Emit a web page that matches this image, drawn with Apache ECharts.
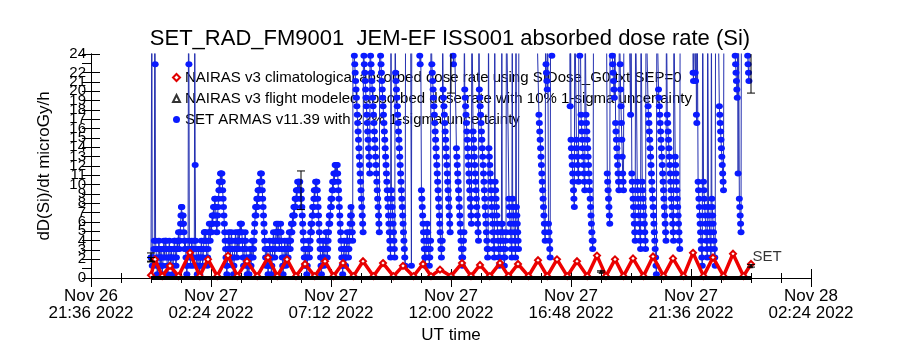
<!DOCTYPE html>
<html><head><meta charset="utf-8">
<script src="https://cdn.jsdelivr.net/npm/echarts@6/dist/echarts.min.js"></script>
<style>html,body{margin:0;padding:0;background:#fff}#c{width:900px;height:350px}</style>
</head><body><div id="c"></div>
<script>
// x axis: hours since Nov 26 21:36 UT
const xTickLabels = ["Nov 26\n21:36 2022","Nov 27\n02:24 2022","Nov 27\n07:12 2022","Nov 27\n12:00 2022","Nov 27\n16:48 2022","Nov 27\n21:36 2022","Nov 28\n02:24 2022"];
const dataStartHour = 2.4;        // Nov 27 00:00 UT
const blueStepHour = 1/60;        // 1-minute samples

const seriesNames = [
  "NAIRAS v3 climatological absorbed dose rate using SIDose_G0.txt SEP=0",
  "NAIRAS v3 flight modeled absorbed dose rate with 10% 1-sigma uncertainty",
  "SET ARMAS v11.39 with 22% 1-sigma uncertainty"
];

// SET ARMAS dose rate (microGy/h), 1-min samples from Nov 27 00:00 (values >24 are off the chart)
const blueValues = [
2.2,2.2,30,1.3,2.2,1.3,2.2,3.1,4.0,30,22.9,4.0,3.1,2.2,
1.3,0.4,1.3,2.2,3.1,4.0,3.1,2.2,1.3,2.2,3.1,2.2,1.3,0.4,1.3,2.2,3.1,4.0,3.1,2.2,
3.1,4.0,4.0,3.1,2.2,1.3,0.4,1.3,2.2,3.1,4.0,3.1,
2.2,1.3,2.2,3.1,2.2,1.3,0.4,1.3,2.2,3.1,4.0,4.0,
3.1,2.2,1.3,2.2,3.1,4.0,3.1,4.0,4.9,4.0,3.1,4.0,4.9,5.8,6.7,7.6,
7.6,6.7,5.8,6.7,5.8,4.9,4.0,3.1,4.0,3.1,2.2,1.3,0.4,1.3,2.2,
3.1,30,22.9,4.0,3.1,2.2,1.3,2.2,3.1,4.0,3.1,2.2,1.3,2.2,3.1,4.0,30,12.1,4.0,3.1,2.2,1.3,
0.4,1.3,2.2,3.1,2.2,1.3,0.4,1.3,2.2,3.1,4.0,3.1,2.2,1.3,2.2,3.1,4.0,4.9,
4.9,4.0,4.9,4.0,3.1,2.2,1.3,2.2,3.1,4.0,4.9,5.8,
4.9,4.0,4.9,5.8,4.9,5.8,6.7,5.8,6.7,7.6,6.7,7.6,8.5,8.5,7.6,6.7,5.8,4.9,5.8,6.7,
7.6,8.5,9.4,10.3,9.4,10.3,11.2,11.2,10.3,11.2,10.3,9.4,8.5,7.6,6.7,5.8,4.9,4.0,3.1,2.2,1.3,0.4,1.3,2.2,3.1,
4.0,4.9,4.0,3.1,2.2,3.1,4.0,4.9,4.0,3.1,2.2,1.3,0.4,1.3,2.2,3.1,4.0,4.9,4.0,3.1,
2.2,3.1,4.0,4.9,4.0,3.1,4.0,4.9,5.8,4.9,5.8,5.8,4.9,4.0,3.1,2.2,1.3,2.2,3.1,4.0,4.9,4.0,3.1,2.2,1.3,
0.4,1.3,2.2,1.3,0.4,1.3,2.2,3.1,2.2,1.3,2.2,3.1,4.0,3.1,2.2,3.1,4.0,4.9,5.8,6.7,
7.6,6.7,7.6,8.5,7.6,8.5,9.4,8.5,9.4,10.3,9.4,10.3,11.2,10.3,11.2,10.3,9.4,8.5,7.6,6.7,5.8,4.9,4.0,3.1,2.2,1.3,2.2,3.1,2.2,1.3,
0.4,1.3,2.2,3.1,4.0,3.1,2.2,1.3,0.4,1.3,2.2,3.1,4.0,4.9,4.0,3.1,2.2,3.1,4.0,4.9,
5.8,4.9,4.0,4.9,5.8,4.9,4.0,3.1,4.0,4.9,5.8,4.9,4.0,3.1,2.2,1.3,0.4,1.3,2.2,3.1,4.0,3.1,2.2,1.3,2.2,
3.1,4.0,3.1,2.2,3.1,4.0,4.9,4.0,3.1,4.0,4.9,5.8,4.9,5.8,6.7,
5.8,6.7,7.6,6.7,7.6,8.5,7.6,8.5,9.4,8.5,9.4,10.3,9.4,10.3,10.3,9.4,10.3,9.4,8.5,9.4,8.5,7.6,6.7,5.8,4.9,4.0,3.1,2.2,1.3,2.2,
3.1,2.2,1.3,0.4,1.3,2.2,3.1,4.0,3.1,2.2,3.1,4.0,4.9,5.8,4.9,5.8,6.7,7.6,6.7,7.6,
8.5,9.4,8.5,9.4,10.3,9.4,10.3,10.3,9.4,8.5,7.6,6.7,5.8,4.9,4.0,3.1,2.2,1.3,0.4,1.3,2.2,3.1,4.0,3.1,2.2,
1.3,2.2,3.1,4.0,4.9,4.0,3.1,2.2,3.1,4.0,4.9,5.8,6.7,5.8,6.7,7.6,8.5,7.6,8.5,9.4,
10.3,9.4,10.3,11.2,10.3,11.2,12.1,11.2,12.1,12.1,11.2,12.1,11.2,10.3,9.4,8.5,7.6,6.7,5.8,4.9,4.0,3.1,2.2,1.3,0.4,1.3,2.2,3.1,4.0,3.1,
2.2,1.3,2.2,3.1,4.0,4.9,4.0,3.1,2.2,3.1,4.0,4.9,5.8,6.7,7.6,6.7,5.8,4.9,4.0,30,
30,30,23.8,22.9,22.0,21.1,20.2,19.3,18.4,17.5,16.6,15.7,14.8,13.9,13.0,12.1,11.2,10.3,9.4,8.5,7.6,6.7,5.8,4.9,
30,23.8,22.9,22.0,21.1,20.2,19.3,18.4,17.5,16.6,15.7,14.8,13.9,13.0,12.1,11.2,
30,23.8,22.9,22.0,21.1,20.2,19.3,18.4,17.5,16.6,15.7,14.8,13.9,13.0,12.1,11.2,10.3,9.4,8.5,7.6,6.7,5.8,4.9,
30,30,23.8,22.9,22.0,21.1,20.2,19.3,18.4,17.5,16.6,15.7,14.8,13.9,13.0,12.1,11.2,10.3,9.4,8.5,7.6,6.7,5.8,4.9,4.0,3.1,2.2,
30,9.4,8.5,7.6,6.7,5.8,4.9,4.0,3.1,2.2,
30,22.0,21.1,20.2,19.3,18.4,17.5,16.6,15.7,14.8,13.9,13.0,12.1,11.2,10.3,9.4,8.5,7.6,6.7,5.8,4.9,4.0,3.1,2.2,1.3,
30,30,30,30,30,30,30,30,30,30,30,30,30,30,
1.3,
30,30,30,30,30,30,30,30,30,30,30,30,30,30,30,30,30,30,30,
23.8,22.9,30,30,9.4,8.5,7.6,6.7,5.8,4.9,4.0,3.1,2.2,1.3,
2.2,3.1,4.0,4.9,5.8,4.9,4.0,3.1,2.2,1.3,2.2,3.1,4.0,30,30,
22.9,22.0,21.1,20.2,19.3,18.4,17.5,16.6,15.7,14.8,13.9,13.0,12.1,11.2,10.3,9.4,8.5,7.6,6.7,5.8,4.9,4.0,3.1,
2.2,3.1,4.0,30,20.2,19.3,18.4,17.5,16.6,15.7,14.8,13.9,13.0,12.1,11.2,10.3,9.4,8.5,7.6,6.7,5.8,4.9,30,25.4,
30,30,30,30,23.8,22.9,30,30,30,30,30,30,13.9,13.0,12.1,11.2,10.3,9.4,8.5,7.6,6.7,5.8,4.9,4.0,3.1,2.2,1.3,2.2,3.1,4.0,4.9,30,
20.2,19.3,18.4,17.5,16.6,15.7,14.8,13.9,13.0,12.1,11.2,10.3,9.4,8.5,7.6,6.7,5.8,30,
30,30,15.7,14.8,13.9,13.0,12.1,11.2,10.3,9.4,8.5,7.6,6.7,5.8,4.9,4.0,30,20.2,19.3,18.4,17.5,16.6,15.7,14.8,13.9,13.0,12.1,
11.2,10.3,9.4,8.5,7.6,6.7,5.8,4.9,4.0,3.1,2.2,3.1,30,
13.9,13.0,12.1,11.2,10.3,9.4,8.5,7.6,6.7,5.8,4.9,4.0,3.1,2.2,30,10.3,9.4,8.5,7.6,6.7,5.8,4.9,4.0,3.1,2.2,1.3,2.2,3.1,
4.0,4.9,5.8,30,5.8,4.9,4.0,3.1,2.2,1.3,2.2,3.1,
4.0,4.9,30,30,30,30,30,30,
8.5,7.6,6.7,5.8,4.9,4.0,3.1,2.2,30,8.5,7.6,6.7,5.8,4.9,4.0,
3.1,2.2,30,7.6,6.7,5.8,4.9,4.0,3.1,30,30,30,30,
30,30,30,30,30,30,30,30,30,30,30,30,30,30,30,30,30,30,30,30,30,30,30,30,30,30,30,30,30,30,30,30,30,30,30,30,30,30,30,30,30,30,30,30,
17.5,16.6,15.7,14.8,13.9,13.0,12.1,11.2,10.3,9.4,8.5,7.6,6.7,5.8,4.9,4.0,
30,22.9,22.0,21.1,20.2,30,30,5.8,4.9,4.0,3.1,2.2,30,30,
30,23.8,30,30,30,
30,30,30,30,30,30,30,30,30,30,30,30,30,30,30,30,30,30,30,30,30,30,30,30,30,30,30,30,30,30,30,30,30,30,30,30,30,30,30,30,
18.4,30,14.8,13.9,13.0,12.1,11.2,10.3,9.4,8.5,7.6,30,30,30,30,
14.8,13.9,13.0,12.1,11.2,10.3,30,30,23.8,30,30,17.5,16.6,15.7,14.8,
13.9,13.0,12.1,11.2,10.3,9.4,30,30,17.5,16.6,15.7,14.8,13.9,13.0,12.1,11.2,10.3,9.4,8.5,7.6,
6.7,5.8,4.9,4.0,3.1,4.0,30,30,30,30,30,30,30,30,30,30,30,30,30,30,30,30,
40,
30,40,30,30,30,30,30,30,30,30,30,30,30,30,30,
30,11.2,10.3,9.4,8.5,7.6,6.7,5.8,30,30,30,30,30,
23.8,22.9,22.0,21.1,20.2,19.3,30,30,16.6,15.7,14.8,13.9,13.0,12.1,11.2,10.3,9.4,30,30,22.9,20.2,18.4,
16.6,14.8,13.0,11.2,10.3,9.4,30,30,30,30,
30,30,30,30,30,30,30,30,30,30,30,30,
17.5,30,30,11.2,10.3,9.4,8.5,7.6,6.7,5.8,4.9,4.0,30,30,30,30,
10.3,9.4,8.5,7.6,6.7,5.8,4.9,4.0,3.1,30,30,30,10.3,9.4,8.5,7.6,6.7,5.8,4.9,4.0,3.1,30,30,30,
30,30,18.4,17.5,16.6,15.7,14.8,13.9,13.0,12.1,11.2,10.3,9.4,8.5,7.6,6.7,5.8,4.9,4.0,3.1,2.2,1.3,0.4,30,30,30,30,20.2,19.3,18.4,17.5,16.6,
15.7,14.8,13.9,13.0,12.1,11.2,10.3,9.4,8.5,7.6,6.7,5.8,4.9,4.0,30,30,17.5,16.6,15.7,14.8,13.9,13.0,12.1,11.2,
10.3,9.4,8.5,7.6,6.7,5.8,4.9,4.0,30,30,30,13.0,12.1,11.2,10.3,9.4,8.5,7.6,6.7,5.8,4.9,4.0,3.1,30,
30,30,30,30,30,30,30,30,30,30,30,30,30,30,30,30,30,30,30,30,30,30,30,30,
30,30,30,30,30,30,22.0,21.1,30,30,30,22.0,21.1,30,17.5,16.6,30,30,10.3,9.4,8.5,7.6,6.7,5.8,
4.9,4.0,3.1,2.2,1.3,30,30,10.3,9.4,8.5,7.6,6.7,5.8,4.9,4.0,3.1,2.2,30,30,7.6,6.7,5.8,4.9,4.0,
3.1,2.2,30,8.5,7.6,6.7,5.8,4.9,4.0,3.1,2.2,1.3,30,30,30,30,30,30,30,30,30,18.4,17.5,16.6,
15.7,14.8,13.9,13.0,12.1,11.2,10.3,9.4,30,30,30,30,30,30,30,30,30,30,30,30,30,30,30,30,
30,30,30,30,30,30,30,30,30,30,30,23.8,22.9,22.0,21.1,20.2,19.3,30,11.2,30,30,8.5,7.6,6.7,
5.8,4.9,30,30,30,30,30,30,30,30,30,30,30,30,30,30,30,23.8,22.9,22.0,21.1,30,30,30,30,25.4
];

// NAIRAS climatological: turning points (hours since Nov 27 00:00, microGy/h)
const redHours = [0.0,0.16,0.45,0.76,1.1,1.56,1.95,2.28,2.65,3.08,3.45,3.84,4.25,4.68,5.05,5.44,5.8,6.16,6.55,6.96,7.3,7.68,8.1,8.48,8.9,9.28,9.7,10.08,10.5,10.88,11.2,11.56,12.0,12.44,12.8,13.16,13.55,13.96,14.3,14.68,15.1,15.48,15.85,16.24,16.65,17.04,17.45,17.84,18.2,18.56,18.9,19.28,19.7,20.08,20.5,20.88,21.3,21.68,22.1,22.48,22.9,23.28,23.7,24.0];
const redValues = [0.3,2.0,0.2,1.3,0.2,2.7,0.2,2.0,0.2,2.4,0.2,1.8,0.2,2.2,0.2,2.0,0.2,1.5,0.2,1.8,0.2,1.6,0.2,1.8,0.2,1.6,0.2,1.3,0.2,1.5,0.2,0.9,0.2,1.6,0.2,1.4,0.2,1.6,0.2,1.5,0.2,1.9,0.2,2.0,0.2,1.8,0.2,2.4,0.2,2.0,0.2,2.1,0.2,2.3,0.2,2.1,0.2,2.7,0.2,2.2,0.2,2.6,0.2,1.5];

// NAIRAS flight modeled (hours since Nov 27 00:00)
const blackHours = [0, 6, 12, 18, 24];
const blackValues = [2.0, 0.05, 0.05, 0.7, 1.3];
const baseHours = [0, 24];
const baseValues = [0, 0];

const errHours = [0, 6, 12, 18, 24];

const blueData = blueValues.map((v,i)=>[dataStartHour + i*blueStepHour, v]);
const redData = redHours.map((h,i)=>[dataStartHour + h, redValues[i]]);
const blackData = blackHours.map((h,i)=>[dataStartHour + h, blackValues[i]]);
const baseData = baseHours.map((h,i)=>[dataStartHour + h, baseValues[i]]);
const blueErr = errHours.map(h=>{const v = blueValues[Math.min(blueValues.length-1, Math.round(h/blueStepHour))]; return [dataStartHour+h, v*0.78, v*1.22];});
const blackErr = blackHours.map((h,i)=>[dataStartHour+h, blackValues[i]*0.9, blackValues[i]*1.1]);

const FONT = 'Liberation Sans';
function errRender(params, api){
  const x = api.coord([api.value(0),0])[0];
  const lo = api.coord([api.value(0),api.value(1)])[1];
  const hi = api.coord([api.value(0),api.value(2)])[1];
  const w = 4, st = {stroke:'#000', lineWidth:1};
  return {type:'group', children:[
    {type:'line', shape:{x1:x,y1:lo,x2:x,y2:hi}, style:st},
    {type:'line', shape:{x1:x-w,y1:lo,x2:x+w,y2:lo}, style:st},
    {type:'line', shape:{x1:x-w,y1:hi,x2:x+w,y2:hi}, style:st}
  ]};
}
const xCommon = {type:'value', min:0, max:28.8, interval:4.8,
  axisLine:{lineStyle:{color:'#000',width:1}},
  axisTick:{inside:true,length:9,lineStyle:{color:'#000'}},
  minorTick:{show:true,splitNumber:4,length:5,lineStyle:{color:'#000'}},
  splitLine:{show:false}};
const yCommon = {type:'value', min:0, max:24, interval:1,
  axisLine:{show:true,lineStyle:{color:'#000',width:1}},
  axisTick:{show:true,inside:true,length:9,lineStyle:{color:'#000'}},
  splitLine:{show:false}};

const chart = echarts.init(document.getElementById('c'), null, {renderer:'canvas'});
chart.setOption({
  animation:false,
  backgroundColor:'#fff',
  textStyle:{fontFamily:FONT},
  title:{text:'SET_RAD_FM9001  JEM-EF ISS001 absorbed dose rate (Si)', left:'center', top:23,
    textStyle:{fontSize:22,fontWeight:'normal',color:'#000',fontFamily:FONT}},
  grid:{left:91,right:89,top:54,bottom:72},
  legend:{orient:'vertical', left:172, top:70, itemWidth:7, itemHeight:7, itemGap:6, padding:0, z:1,
    textStyle:{fontSize:15,color:'#000',fontFamily:FONT,lineHeight:15},
    data:[
      {name:seriesNames[0], icon:'emptyDiamond', itemStyle:{color:'#e00000',borderColor:'#e00000',borderWidth:0.8}},
      {name:seriesNames[1], icon:'emptyTriangle', itemStyle:{color:'#000',borderColor:'#000',borderWidth:0.8}},
      {name:seriesNames[2], icon:'circle', itemStyle:{color:'#0a1aff'}}
    ]},
  xAxis:[
    Object.assign({}, xCommon, {position:'bottom', name:'UT time', nameLocation:'middle', nameGap:45,
      nameTextStyle:{fontSize:17,color:'#000',fontFamily:FONT},
      axisLabel:{color:'#000',fontSize:17,lineHeight:17,margin:10,fontFamily:FONT,
        formatter:v=>xTickLabels[Math.round(v/4.8)]}}),
    Object.assign({}, xCommon, {position:'top', axisLabel:{show:false}})
  ],
  yAxis:[
    Object.assign({}, yCommon, {position:'left', name:'dD(Si)/dt microGy/h', nameLocation:'middle', nameGap:38,
      nameTextStyle:{fontSize:17,color:'#000',fontFamily:FONT},
      axisLabel:{color:'#000',fontSize:15,margin:5,fontFamily:FONT,showMinLabel:true,showMaxLabel:true}}),
    Object.assign({}, yCommon, {position:'right', axisLabel:{show:false}})
  ],
  series:[
    {name:seriesNames[2], type:'line', data:blueData, xAxisIndex:0, yAxisIndex:0, z:3,
      symbol:'circle', symbolSize:[7,6], showAllSymbol:true, clip:true, sampling:null,
      itemStyle:{color:'#0a1aff'}, lineStyle:{color:'#2430b0',width:1}},
    {name:seriesNames[0], type:'line', data:redData, z:4, clip:true,
      symbol:'emptyDiamond', symbolSize:6, showAllSymbol:true,
      itemStyle:{color:'#e00000'}, lineStyle:{color:'#ee0000',width:3.5}},
    {name:'base', type:'line', data:baseData, z:5, symbol:'none', clip:false,
      lineStyle:{color:'#000',width:4}},
    {name:seriesNames[1], type:'scatter', data:blackData, z:6, clip:true,
      symbol:'triangle', symbolSize:5, itemStyle:{color:'#000'},
      label:{show:true, position:'right', offset:[-6,-9], fontSize:15, color:'#000', fontFamily:FONT,
        formatter:p=> p.dataIndex===blackData.length-1 ? 'SET' : ''}},
    {name:'blueErr', type:'custom', renderItem:errRender, data:blueErr, z:7, clip:true},
    {name:'blackErr', type:'custom', renderItem:errRender, data:blackErr, z:7, clip:true}
  ]
});
</script></body></html>
